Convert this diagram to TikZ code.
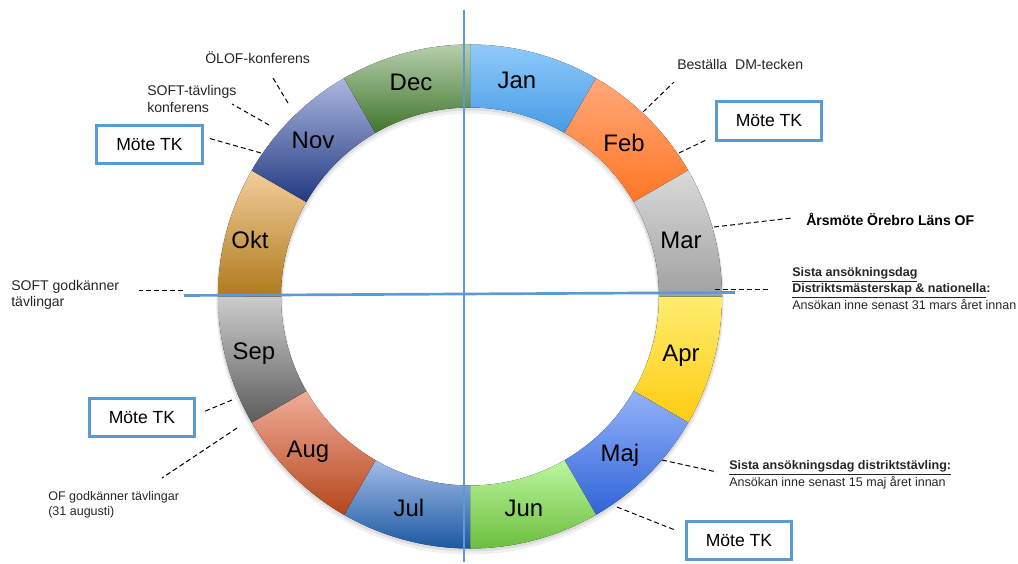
\documentclass[tikz,border=0pt]{standalone}
\usepackage{fontspec}
\setmainfont{Liberation Sans}
\definecolor{lineA}{RGB}{91,155,213}
\definecolor{janT}{RGB}{144,202,250} \definecolor{janB}{RGB}{70,155,230}
\definecolor{febT}{RGB}{255,168,122} \definecolor{febB}{RGB}{255,118,36}
\definecolor{marT}{RGB}{218,218,218} \definecolor{marB}{RGB}{160,160,160}
\definecolor{aprT}{RGB}{255,236,112} \definecolor{aprB}{RGB}{255,204,16}
\definecolor{majT}{RGB}{148,178,250} \definecolor{majB}{RGB}{48,100,215}
\definecolor{junT}{RGB}{188,246,160} \definecolor{junB}{RGB}{108,190,62}
\definecolor{julT}{RGB}{162,188,232} \definecolor{julB}{RGB}{28,88,160}
\definecolor{augT}{RGB}{242,172,152} \definecolor{augB}{RGB}{180,70,28}
\definecolor{sepT}{RGB}{204,204,204} \definecolor{sepB}{RGB}{92,92,92}
\definecolor{oktT}{RGB}{242,206,156} \definecolor{oktB}{RGB}{174,122,28}
\definecolor{novT}{RGB}{172,182,222} \definecolor{novB}{RGB}{34,58,130}
\definecolor{decT}{RGB}{182,206,172} \definecolor{decB}{RGB}{64,118,44}

\begin{document}
\begin{tikzpicture}[x=0.025cm, y=-0.025cm,
  month/.style={font=\fontsize{17}{20}\selectfont, text height=12.2pt, text depth=0pt, inner sep=0pt},
  note/.style={font=\fontsize{10}{11.5}\selectfont, text=black!85, align=left, anchor=west, inner sep=0pt},
  smallnote/.style={font=\fontsize{8.9}{11}\selectfont, text=black!85, align=left, anchor=west, inner sep=0pt},
  tkbox/.style={draw=lineA, line width=2pt, fill=white, minimum width=2.63cm, minimum height=0.96cm,
    inner sep=0pt, font=\fontsize{12.5}{14}\selectfont},
  leader/.style={line width=0.7pt, dash pattern=on 3.5pt off 2.2pt}]
  \useasboundingbox (0,0) rectangle (1018,564);

  % soft shadow under the ring
  \fill[black, opacity=0.06, even odd rule] (470,300.5) circle[radius=254] (470,300.5) circle[radius=187];
  \fill[black, opacity=0.08, even odd rule] (470,298.5) circle[radius=253] (470,298.5) circle[radius=188];

  % ring of months
  \begin{scope}[shift={(470,296.5)}]
    \fill[top color=janT, bottom color=janB] (-90:252) arc[start angle=-90, end angle=-60, radius=252] -- (-60:189) arc[start angle=-60, end angle=-90, radius=189] -- cycle;
    \fill[top color=febT, bottom color=febB] (-60:252) arc[start angle=-60, end angle=-30, radius=252] -- (-30:189) arc[start angle=-30, end angle=-60, radius=189] -- cycle;
    \fill[top color=marT, bottom color=marB] (-30:252) arc[start angle=-30, end angle=0, radius=252] -- (0:189) arc[start angle=0, end angle=-30, radius=189] -- cycle;
    \fill[top color=aprT, bottom color=aprB] (0:252) arc[start angle=0, end angle=30, radius=252] -- (30:189) arc[start angle=30, end angle=0, radius=189] -- cycle;
    \fill[top color=majT, bottom color=majB] (30:252) arc[start angle=30, end angle=60, radius=252] -- (60:189) arc[start angle=60, end angle=30, radius=189] -- cycle;
    \fill[top color=junT, bottom color=junB] (60:252) arc[start angle=60, end angle=90, radius=252] -- (90:189) arc[start angle=90, end angle=60, radius=189] -- cycle;
    \fill[top color=julT, bottom color=julB] (90:252) arc[start angle=90, end angle=120, radius=252] -- (120:189) arc[start angle=120, end angle=90, radius=189] -- cycle;
    \fill[top color=augT, bottom color=augB] (120:252) arc[start angle=120, end angle=150, radius=252] -- (150:189) arc[start angle=150, end angle=120, radius=189] -- cycle;
    \fill[top color=sepT, bottom color=sepB] (150:252) arc[start angle=150, end angle=180, radius=252] -- (180:189) arc[start angle=180, end angle=150, radius=189] -- cycle;
    \fill[top color=oktT, bottom color=oktB] (180:252) arc[start angle=180, end angle=210, radius=252] -- (210:189) arc[start angle=210, end angle=180, radius=189] -- cycle;
    \fill[top color=novT, bottom color=novB] (210:252) arc[start angle=210, end angle=240, radius=252] -- (240:189) arc[start angle=240, end angle=210, radius=189] -- cycle;
    \fill[top color=decT, bottom color=decB] (240:252) arc[start angle=240, end angle=270, radius=252] -- (270:189) arc[start angle=270, end angle=240, radius=189] -- cycle;
  \end{scope}

  \node[month] (jan) at (517,80)  {Jan};
  \node[month] (feb) at (624,143) {Feb};
  \node[month] (mar) at (681,240) {Mar};
  \node[month] (apr) at (681,353) {Apr};
  \node[month] (maj) at (620,453) {Maj};
  \node[month] (jun) at (524,508) {Jun};
  \node[month] (jul) at (409,508) {Jul};
  \node[month] (aug) at (308,449) {Aug};
  \node[month] (sep) at (254,351) {Sep};
  \node[month] (okt) at (250,240) {Okt};
  \node[month] (nov) at (313,140) {Nov};
  \node[month] (dec) at (411,82)  {Dec};

  % quarter lines
  \draw[lineA, line width=1.9pt] (464,10) -- (464,562);
  \draw[lineA, line width=1.9pt] (184,295.5) -- (735,292.5);

  % notes
  \node[note] (olof) at (205,58) {ÖLOF-konferens};
  \node[note] (softkonf) at (147,99) {SOFT-tävlings\\konferens};
  \node[note] (softgod) at (11,295) {SOFT godkänner\\tävlingar};
  \node[note] (bestalla) at (677,64) {Beställa\ \ DM-tecken};
  \node[note, font=\fontsize{10}{11.5}\selectfont\bfseries, text=black] (arsmote) at (806,219) {Årsmöte Örebro Läns OF};
  \node[smallnote] (sista1) at (792,288.5) {\textbf{\underline{Sista ansökningsdag}}\\\textbf{\underline{Distriktsmästerskap \& nationella}:}\\Ansökan inne senast 31 mars året innan};
  \node[smallnote] (sista2) at (729,475) {\textbf{\underline{Sista ansökningsdag distriktstävling:}}\\Ansökan inne senast 15 maj året innan};
  \node[smallnote] (ofgod) at (48,505) {OF godkänner tävlingar\\(31 augusti)};

  \node[tkbox] (tkNov) at (149.5,144.5) {Möte TK};
  \node[tkbox] (tkFeb) at (769,121)   {Möte TK};
  \node[tkbox] (tkSep) at (142,417.5) {Möte TK};
  \node[tkbox] (tkMaj) at (739,540.5) {Möte TK};

  % leader ends
  \coordinate (olof-r) at (288,103);     \coordinate (olof-t) at (273,78);
  \coordinate (softkonf-r) at (269,125); \coordinate (softkonf-t) at (232,104);
  \coordinate (tkNov-r) at (261,153);    \coordinate (tkNov-t) at (208,138);
  \coordinate (softgod-r) at (183,290);  \coordinate (softgod-t) at (139,290);
  \coordinate (bestalla-r) at (643,112); \coordinate (bestalla-t) at (674,82);
  \coordinate (tkFeb-r) at (679,153);    \coordinate (tkFeb-t) at (706,140);
  \coordinate (arsmote-r) at (714,227);  \coordinate (arsmote-t) at (792,218);
  \coordinate (sista1-r) at (715,289);   \coordinate (sista1-t) at (770,289);
  \coordinate (tkSep-r) at (232,400);    \coordinate (tkSep-t) at (203,412);
  \coordinate (ofgod-r) at (237,428);    \coordinate (ofgod-t) at (162,478);
  \coordinate (sista2-r) at (662,460);   \coordinate (sista2-t) at (717,472);
  \coordinate (tkMaj-r) at (617,507);    \coordinate (tkMaj-t) at (675,530);

  \draw[leader] (olof-r) -- (olof-t);
  \draw[leader] (softkonf-r) -- (softkonf-t);
  \draw[leader] (tkNov-r) -- (tkNov-t);
  \draw[leader] (softgod-r) -- (softgod-t);
  \draw[leader] (bestalla-r) -- (bestalla-t);
  \draw[leader] (tkFeb-r) -- (tkFeb-t);
  \draw[leader] (arsmote-r) -- (arsmote-t);
  \draw[leader] (sista1-r) -- (sista1-t);
  \draw[leader] (tkSep-r) -- (tkSep-t);
  \draw[leader] (ofgod-r) -- (ofgod-t);
  \draw[leader] (sista2-r) -- (sista2-t);
  \draw[leader] (tkMaj-r) -- (tkMaj-t);

\end{tikzpicture}
\end{document}
